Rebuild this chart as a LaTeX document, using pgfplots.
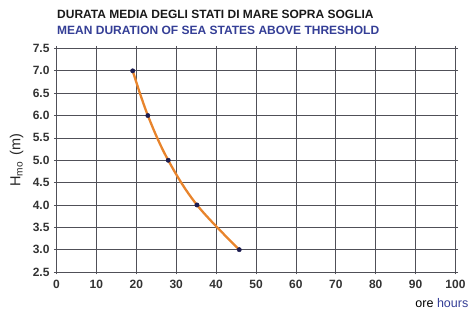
\documentclass[border=0pt]{standalone}
\usepackage{pgfplots}
\pgfplotsset{compat=1.18}
\usepackage{fontspec}
\setmainfont{Liberation Sans}
\definecolor{titleblue}{RGB}{52,62,150}
\definecolor{curveorange}{RGB}{232,132,44}
\definecolor{dotnavy}{RGB}{28,28,80}
\definecolor{gridgray}{RGB}{80,80,88}
\begin{document}
\begin{tikzpicture}
\begin{axis}[
  scale only axis,
  width=399pt, height=223.5pt,
  xmin=0, xmax=100, ymin=2.5, ymax=7.5,
  xtick={0,10,...,100},
  ytick={2.5,3,3.5,4,4.5,5,5.5,6,6.5,7,7.5},
  yticklabel style={/pgf/number format/fixed, /pgf/number format/fixed zerofill, /pgf/number format/precision=1},
  /pgf/number format/assume math mode=true,
  ticklabel style={font=\fontsize{12}{12}\selectfont\bfseries, text=black!80},
  xticklabel style={yshift=-2pt},
  yticklabel style={xshift=-1pt},
  grid=major,
  major grid style={gridgray, line width=0.7pt},
  axis line style={gridgray, line width=0.7pt},
  tick style={gridgray, line width=0.7pt},
  tick align=outside,
  major tick length=2.5pt,
  ylabel={H\textsubscript{mo}\hspace{6pt}(m)},
  ylabel style={at={(axis description cs:-0.1,0.5)}, anchor=center, font=\fontsize{14.5}{15}\selectfont, text=black!85},
]
\addplot[curveorange, line width=2.3pt, smooth, tension=0.6] coordinates {
  (19.1,7.0) (22.9,6.0) (28.0,5.0) (35.2,4.0) (45.8,3.0)
};
\addplot[only marks, mark=*, mark size=2.2pt, dotnavy] coordinates {
  (19.1,7.0) (22.9,6.0) (28.0,5.0) (35.2,4.0) (45.8,3.0)
};
\end{axis}
\node[anchor=base west, inner sep=0pt, font=\fontsize{12}{12}\selectfont\bfseries, text=black!90] at ([shift={(0.5pt,29.5pt)}]current axis.north west) {DURATA MEDIA DEGLI STATI DI MARE SOPRA SOGLIA};
\node[anchor=base west, inner sep=0pt, font=\fontsize{12}{12}\selectfont\bfseries, text=titleblue] at ([shift={(0.5pt,14.2pt)}]current axis.north west) {MEAN DURATION OF SEA STATES ABOVE THRESHOLD};
\node[anchor=base east, inner sep=0pt, font=\fontsize{12.5}{13}\selectfont] at ([shift={(412pt,-36pt)}]current axis.south west) {ore \textcolor{titleblue}{hours}};
\pgfresetboundingbox
\path[use as bounding box] ([shift={(-56.5pt,-40pt)}]current axis.south west) rectangle ++(468pt,312pt);
\end{tikzpicture}
\end{document}
